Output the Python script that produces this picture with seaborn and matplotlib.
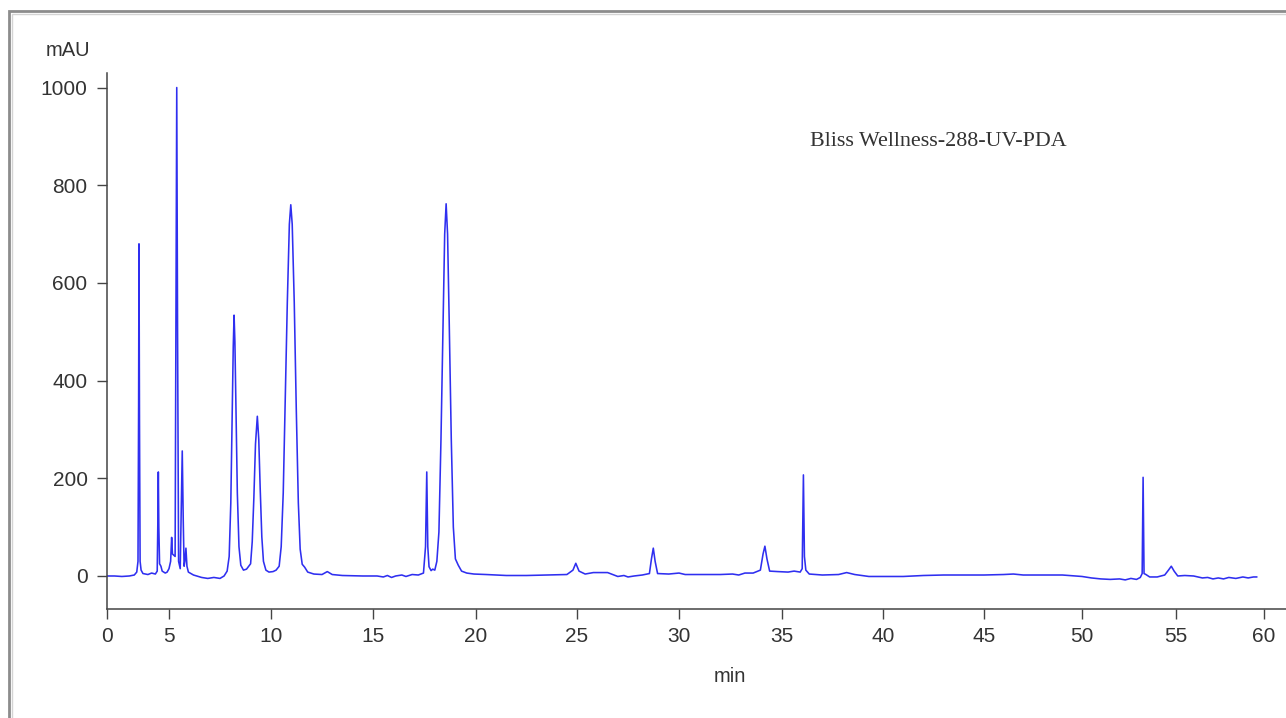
import numpy as np
import pandas as pd
import matplotlib
matplotlib.use("Agg")
import matplotlib.pyplot as plt
from matplotlib.patches import Rectangle
import seaborn as sns

# ---- chromatogram trace: retention time (min) and detector response (mAU) ----
time_min = [
    0.0, 0.6, 1.2, 1.8, 2.2, 2.4, 2.50, 2.55, 2.58, 2.62, 2.67, 2.75, 2.9, 3.3, 3.6, 3.9,
    4.05, 4.10, 4.14, 4.18, 4.24, 4.35, 4.45, 4.7, 4.85, 5.0,
    5.08, 5.13, 5.17, 5.30, 5.34, 5.38, 5.42, 5.47, 5.55, 5.60, 5.65, 5.70, 5.74, 5.78,
    5.83, 5.88, 5.95, 6.2, 6.6, 6.9, 7.2, 7.5, 7.7,
    7.85, 7.95, 8.03, 8.10, 8.15, 8.19, 8.23, 8.28, 8.35, 8.43, 8.52, 8.65, 8.8,
    9.0, 9.08, 9.16, 9.24, 9.33, 9.40, 9.47, 9.55, 9.63, 9.75, 9.9, 10.1, 10.25,
    10.4, 10.5, 10.6, 10.7, 10.8, 10.9, 10.97, 11.04, 11.14, 11.24, 11.34, 11.43, 11.53,
    11.65, 11.8, 12.1, 12.5, 12.76, 13.0, 13.5, 14.5, 15.2, 15.5,
    15.7, 15.9, 16.1, 16.4, 16.6, 16.9, 17.2, 17.45, 17.55, 17.61, 17.66, 17.72, 17.82,
    17.9, 18.0, 18.1, 18.2, 18.3, 18.4, 18.48, 18.55, 18.62, 18.7, 18.8, 18.9, 19.0,
    19.14, 19.3, 19.55,
    19.9, 20.5, 21.5, 22.5, 23.5, 24.5, 24.8, 24.94, 25.1, 25.4, 25.8, 26.5, 27.0, 27.3,
    27.5, 27.8, 28.2, 28.55, 28.65, 28.74, 28.83, 28.95, 29.5, 30.0, 30.3, 31.0, 32.0,
    32.6, 32.9, 33.2, 33.6, 33.95, 34.08, 34.17, 34.27, 34.4, 34.8, 35.3, 35.6, 35.9,
    36.0, 36.06, 36.11, 36.18, 36.35, 37.0, 37.8, 38.2, 38.6, 39.3, 40.0, 41.0, 42.0,
    43.0, 44.0, 45.0, 46.0, 46.5, 47.0, 48.0, 49.0, 50.0, 50.5, 51.0, 51.5, 52.0, 52.3,
    52.6, 52.9, 53.1, 53.2, 53.25, 53.3, 53.4, 53.6, 54.0, 54.4, 54.6, 54.75, 54.9, 55.1,
    55.5, 56.0, 56.5, 56.8, 57.1, 57.4, 57.7, 58.0, 58.4, 58.8, 59.1, 59.4, 59.6,
]
signal_mau = [
    0, 0, -1, 0, 2, 8, 30, 350, 680, 320, 30, 12, 5, 3, 6, 4,
    10, 110, 213, 100, 25, 20, 10, 6, 8, 15,
    30, 79, 45, 40, 500, 1000, 500, 30, 15, 130, 256, 110, 20, 30,
    57, 20, 8, 2, -3, -5, -3, -5, 0,
    10, 40, 150, 330, 470, 534, 480, 350, 170, 60, 22, 12, 14,
    25, 70, 160, 270, 327, 280, 180, 80, 30, 12, 8, 9, 12,
    20, 60, 170, 360, 560, 720, 760, 720, 560, 340, 150, 55, 24,
    18, 8, 4, 3, 9, 3, 1, 0, 0, -2,
    1, -3, 0, 2, -1, 3, 2, 6, 60, 213, 60, 19, 11,
    14, 12, 30, 90, 280, 520, 700, 762, 700, 520, 280, 100, 35,
    22, 10, 6,
    4, 3, 1, 1, 2, 3, 12, 26, 10, 4, 7, 7, -1, 1,
    -2, 0, 2, 5, 35, 57, 30, 5, 4, 6, 3, 3, 3,
    4, 2, 6, 6, 12, 45, 61, 35, 10, 9, 8, 10, 8,
    15, 207, 40, 12, 4, 2, 3, 7, 3, -1, -1, -1, 1,
    2, 2, 2, 3, 4, 2, 2, 2, -1, -4, -6, -7, -6, -8,
    -5, -7, -3, 5, 202, 5, 3, -2, -2, 2, 12, 20, 10, 0,
    1, 0, -4, -3, -6, -4, -6, -3, -5, -2, -4, -2, -2,
]

x_ticks = [0, 5, 10, 15, 20, 25, 30, 35, 40, 45, 50, 55, 60]
y_ticks = [0, 200, 400, 600, 800, 1000]
sample_name = "Bliss Wellness-288-UV-PDA"

# ---- piecewise-linear time axis (first interval compressed) ----
AXIS_KNOT_MIN = np.array(x_ticks, dtype=float)
AXIS_KNOT_POS = np.array([0, 62, 164, 266, 369, 470, 572, 675, 776, 877, 975, 1069, 1157],
                         dtype=float)
_s_lo = (AXIS_KNOT_POS[1] - AXIS_KNOT_POS[0]) / (AXIS_KNOT_MIN[1] - AXIS_KNOT_MIN[0])
_s_hi = (AXIS_KNOT_POS[-1] - AXIS_KNOT_POS[-2]) / (AXIS_KNOT_MIN[-1] - AXIS_KNOT_MIN[-2])


def _to_pos(t):
    t = np.asarray(t, dtype=float)
    mid = np.interp(t, AXIS_KNOT_MIN, AXIS_KNOT_POS)
    lo = AXIS_KNOT_POS[0] + (t - AXIS_KNOT_MIN[0]) * _s_lo
    hi = AXIS_KNOT_POS[-1] + (t - AXIS_KNOT_MIN[-1]) * _s_hi
    return np.where(t < AXIS_KNOT_MIN[0], lo, np.where(t > AXIS_KNOT_MIN[-1], hi, mid))


def _to_min(p):
    p = np.asarray(p, dtype=float)
    mid = np.interp(p, AXIS_KNOT_POS, AXIS_KNOT_MIN)
    lo = AXIS_KNOT_MIN[0] + (p - AXIS_KNOT_POS[0]) / _s_lo
    hi = AXIS_KNOT_MIN[-1] + (p - AXIS_KNOT_POS[-1]) / _s_hi
    return np.where(p < AXIS_KNOT_POS[0], lo, np.where(p > AXIS_KNOT_POS[-1], hi, mid))


trace = pd.DataFrame({"min": time_min, "mAU": signal_mau})

sns.set_theme(style="ticks")
plt.rcParams["font.family"] = ["Liberation Sans", "DejaVu Sans"]

fig = plt.figure(figsize=(12.86, 7.18), dpi=100, facecolor="white")
ax = fig.add_axes([0.0832, 0.1518, 0.9168, 0.7465])
ax.set_facecolor("white")
ax.set_xscale("function", functions=(_to_pos, _to_min))

sns.lineplot(data=trace, x="min", y="mAU", ax=ax, color="#2f2ff0", linewidth=1.15,
             sort=False, estimator=None)

ax.set_xlim(0, 61.25)
ax.set_ylim(-67.6, 1029.7)
ax.set_xticks(x_ticks)
ax.set_xticklabels([str(v) for v in x_ticks])
ax.set_yticks(y_ticks)
ax.set_yticklabels([str(v) for v in y_ticks])
ax.minorticks_off()
ax.set_xlabel("")
ax.set_ylabel("")

for side in ("top", "right"):
    ax.spines[side].set_visible(False)
for side in ("left", "bottom"):
    ax.spines[side].set_color("#444444")
    ax.spines[side].set_linewidth(1.1)

ax.tick_params(axis="both", direction="out", length=7, width=1.0, color="#444444",
               labelsize=15, labelcolor="#333333")
ax.tick_params(axis="x", pad=6)
ax.tick_params(axis="y", pad=7)

# axis captions and sample name
fig.text(46 / 1286, 1 - 50 / 718, "mAU", fontsize=14.5, color="#333333",
         ha="left", va="center")
fig.text(730 / 1286, 1 - 677 / 718, "min", fontsize=14.5, color="#333333",
         ha="center", va="center")
fig.text(810 / 1286, 1 - 142 / 718, sample_name, fontsize=15.8, color="#333333",
         family=["Liberation Serif", "DejaVu Serif"], ha="left", va="center")

# window frame around the plot
fig.patches.append(Rectangle((9 / 1286, -0.2), 1.5, 1.2 - 11 / 718,
                             transform=fig.transFigure, fill=False,
                             edgecolor="#8c8c8c", linewidth=2.0))
fig.patches.append(Rectangle((12 / 1286, -0.2), 1.5, 1.2 - 14 / 718,
                             transform=fig.transFigure, fill=False,
                             edgecolor="#d4d4d4", linewidth=1.0))

fig.savefig("out.png", dpi=100, facecolor="white")
